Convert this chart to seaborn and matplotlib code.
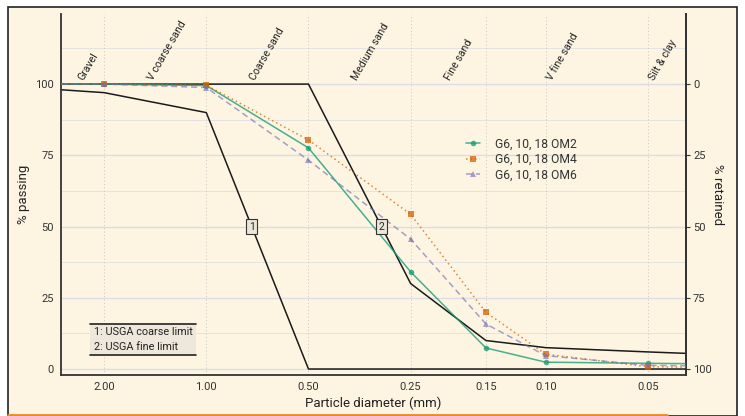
import numpy as np
import pandas as pd
import matplotlib
matplotlib.use("Agg")
import matplotlib.pyplot as plt
import matplotlib.transforms as mtransforms
from matplotlib.lines import Line2D
import seaborn as sns

sns.set_style("white")
plt.rcParams["font.family"] = ["Roboto", "DejaVu Sans"]

# sieve sizes (mm), outer points fall outside the plotted range
sieve = [4.75, 2.00, 1.00, 0.50, 0.25, 0.15, 0.10, 0.05, 0.02]

om2 = [100, 100, 99.5, 77.6, 34.1, 7.4, 2.4, 2.0, 1.6]
om4 = [100, 100, 99.6, 80.4, 54.3, 19.9, 5.2, 0.8, 0.3]
om6 = [100, 100, 98.8, 73.3, 45.6, 15.8, 4.7, 1.3, 0.8]
series_names = ["G6, 10, 18 OM2", "G6, 10, 18 OM4", "G6, 10, 18 OM6"]

coarse_limit = [100, 97, 90, 0, 0, 0, 0, 0, 0]
fine_limit = [100, 100, 100, 100, 30, 10, 7.5, 6.0, 4.2]

ticks_x = [2.00, 1.00, 0.50, 0.25, 0.15, 0.10, 0.05]
ticks_y = [0, 25, 50, 75, 100]

class_names = ["Gravel", "V coarse sand", "Coarse sand", "Medium sand",
               "Fine sand", "V fine sand", "Silt & clay"]
class_label_x = [2.4, 1.5, 0.75, 0.375, 0.2, 0.1, 0.05]

rows = []
for name, vals in zip(series_names, [om2, om4, om6]):
    for d, p in zip(sieve, vals):
        rows.append({"diameter": d, "passing": p, "sample": name})
df = pd.DataFrame(rows)

bg = "#FDF5E2"
fig = plt.figure(figsize=(7.45, 4.16), dpi=100, facecolor="white")
ax = fig.add_axes([61 / 745, 1 - 375 / 416, 625 / 745, 361 / 416])
ax.set_facecolor(bg)

# panel frame around the figure
fig.patches.append(plt.Rectangle((8 / 745, 0), 729 / 745, 409 / 416,
                                 transform=fig.transFigure, facecolor=bg,
                                 edgecolor="#222222", lw=1.2, zorder=-5))
fig.add_artist(Line2D([8 / 745, 667 / 745], [1.5 / 416, 1.5 / 416],
                      transform=fig.transFigure, color="#E8892E", lw=2))

ax.set_xscale("log")
ax.set_xlim(2.68, 0.0386)
ax.set_ylim(-2.1, 124.6)

# grid
for y in ticks_y:
    ax.axhline(y, color="#DCDCE4", lw=1.0, zorder=0)
for y in [12.5, 37.5, 62.5, 87.5, 112.5]:
    ax.axhline(y, color="#E4E2E4", lw=0.7, zorder=0)
for x in ticks_x:
    ax.axvline(x, color="#C9C6C0", lw=0.7, ls=(0, (1, 2.5)), zorder=0)

# USGA limits
ax.plot(sieve, coarse_limit, color="#1a1a1a", lw=1.1, zorder=2)
ax.plot(sieve, fine_limit, color="#1a1a1a", lw=1.1, zorder=2)

palette = [(0.106, 0.620, 0.467, 0.8), (0.851, 0.373, 0.008, 0.75),
           (0.459, 0.439, 0.702, 0.65)]
sns.lineplot(data=df, x="diameter", y="passing", hue="sample", style="sample",
             palette=palette, markers=["o", "s", "^"],
             dashes=[(None, None), (1, 2), (4, 2.5)], markersize=4,
             markeredgewidth=0, lw=1.1, ax=ax, zorder=3)

# numbered labels where the limits cross 50 %
lx = np.log10(sieve)[::-1]
for num, lim in [("1", coarse_limit), ("2", fine_limit)]:
    yy = np.array(lim, dtype=float)[::-1]
    xpos = 10 ** np.interp(50, yy, lx)
    ax.text(xpos, 50, num, fontsize=7.5, ha="center", va="center", zorder=4,
            bbox=dict(boxstyle="square,pad=0.25", facecolor="#E9E5D8",
                      edgecolor="#333333", lw=0.8))

shift = mtransforms.offset_copy(ax.transData, fig=fig, x=6, y=-1, units="dots")
for name, x in zip(class_names, class_label_x):
    ax.text(x, 101.5, name, rotation=60, rotation_mode="anchor",
            ha="left", va="baseline", fontsize=7.6, color="#222222",
            transform=shift)

leg = ax.legend(loc="upper left", bbox_to_anchor=(0.63, 0.688), frameon=False,
                fontsize=8.7, handlelength=1.2, handletextpad=1.2,
                labelspacing=0.2, title=None)
for t in leg.get_texts():
    t.set_color("#333333")

lim_txt = ax.text(0.052, 0.065, "1: USGA coarse limit\n2: USGA fine limit",
                  transform=ax.transAxes, fontsize=7.8, linespacing=1.55,
                  ha="left", va="bottom", color="#222222", zorder=5,
                  bbox=dict(boxstyle="square,pad=0.3", facecolor="#EDE8DB",
                            edgecolor="none"))

ax.set_xticks(ticks_x)
ax.set_xticklabels([f"{t:.2f}" for t in ticks_x])
ax.xaxis.set_minor_locator(matplotlib.ticker.NullLocator())
ax.set_yticks(ticks_y)
ax.tick_params(axis="both", labelsize=8, colors="#333333", length=3,
               width=0.8, direction="out", pad=2)

ax.set_xlabel("Particle diameter (mm)", fontsize=9.5, color="#222222", labelpad=3)
ax.set_ylabel("% passing", fontsize=9.5, color="#222222", labelpad=4)

for side in ["left", "bottom", "right"]:
    ax.spines[side].set_color("#333333")
    ax.spines[side].set_linewidth(1.3)
ax.spines["top"].set_visible(False)

sec = ax.secondary_yaxis("right", functions=(lambda y: 100 - y, lambda y: 100 - y))
sec.set_yticks(ticks_y)
sec.tick_params(labelsize=8, colors="#333333", length=3, width=0.8, pad=2)
sec.spines["right"].set_color("#333333")
sec.spines["right"].set_linewidth(1.3)
sec.set_ylabel("% retained", fontsize=9.5, color="#222222", rotation=270,
               labelpad=9)

# black rules above and below the limit caption
fig.canvas.draw()
bb = lim_txt.get_bbox_patch().get_window_extent()
inv = fig.transFigure.inverted()
(x0, y0), (x1, y1) = inv.transform([(bb.x0, bb.y0), (bb.x1, bb.y1)])
for yv in (y0, y1):
    fig.add_artist(Line2D([x0, x1], [yv, yv], transform=fig.transFigure,
                          color="#222222", lw=1.2, zorder=6))

fig.savefig("out.png", dpi=100, facecolor="white")
